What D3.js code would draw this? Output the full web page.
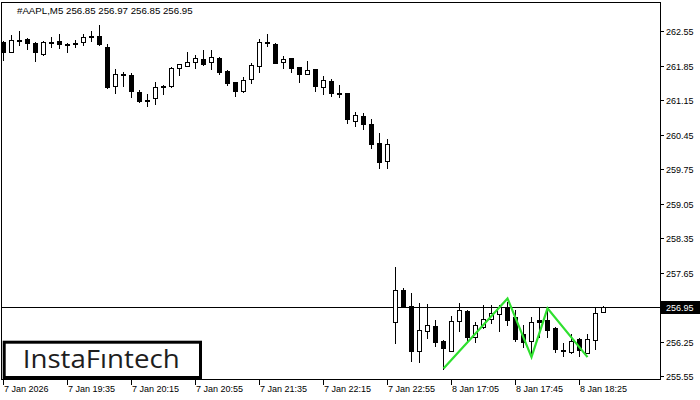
<!DOCTYPE html>
<html><head><meta charset="utf-8">
<script src="https://cdn.jsdelivr.net/npm/d3@7"></script>
<style>html,body{margin:0;padding:0;background:#fff;}svg{display:block;}</style>
</head><body>
<svg id="chart" width="700" height="400"></svg>
<script>
const title = "#AAPL,M5  256.85 256.97 256.85 256.95";
const openP  = [262.33,262.13,262.36,262.39,262.31,262.08,262.33,262.35,262.29,262.31,262.33,262.43,262.45,262.23,261.44,261.68,261.66,261.31,261.15,261.19,261.44,261.44,261.81,261.85,261.92,261.98,261.92,262.00,261.74,261.51,261.34,261.57,261.85,262.33,262.29,261.93,262.00,261.82,261.68,261.78,261.42,261.54,261.29,261.29,260.73,260.83,260.66,260.29,259.92,256.66,257.30,256.98,256.07,256.48,256.57,256.27,256.07,256.68,256.88,256.34,256.55,256.71,256.81,256.95,256.75,256.40,256.27,256.69,256.69,256.54,256.09,256.05,256.30,256.03,256.29,256.85];
const highP  = [262.34,262.47,262.54,262.40,262.33,262.35,262.42,262.49,262.30,262.37,262.49,262.54,262.67,262.29,261.79,261.72,261.70,261.35,261.27,261.52,261.45,261.83,261.89,262.12,262.06,262.16,262.16,262.02,261.75,261.52,261.61,261.91,262.38,262.49,262.30,262.05,262.01,261.83,261.94,261.79,261.64,261.58,261.46,261.30,260.90,260.88,260.76,260.49,260.36,257.76,257.35,257.25,257.03,257.01,256.69,256.28,256.77,257.03,256.89,256.66,257.00,257.00,257.00,257.06,256.90,256.59,256.76,256.95,256.93,256.56,256.22,256.40,256.32,256.40,256.95,256.97];
const lowP   = [261.96,262.12,262.27,262.18,261.95,262.07,262.23,262.21,262.12,262.23,262.27,262.35,262.27,261.39,261.29,261.44,261.22,261.12,261.03,261.08,261.27,261.42,261.66,261.84,261.81,261.87,261.79,261.67,261.46,261.24,261.32,261.49,261.72,262.25,261.90,261.81,261.72,261.52,261.67,261.34,261.27,261.24,261.22,260.69,260.63,260.56,260.17,259.78,259.78,256.23,256.97,255.87,255.85,256.32,256.17,255.71,256.06,256.46,256.25,256.25,256.54,256.63,256.47,256.59,256.27,256.15,255.96,256.35,256.35,256.05,255.97,256.02,255.96,256.02,256.10,256.85];
const closeP = [262.13,262.37,262.35,262.30,262.12,262.33,262.32,262.28,262.28,262.30,262.42,262.44,262.28,261.42,261.68,261.67,261.34,261.14,261.16,261.41,261.41,261.81,261.88,261.93,262.00,261.88,262.02,261.72,261.49,261.34,261.56,261.86,262.33,262.30,261.91,261.98,261.81,261.68,261.75,261.44,261.56,261.30,261.28,260.76,260.85,260.66,260.27,259.89,260.27,257.31,256.98,256.07,256.50,256.59,256.25,256.12,256.68,256.90,256.35,256.59,256.71,256.83,256.95,256.69,256.31,256.25,256.65,256.66,256.49,256.10,256.08,256.27,256.08,256.30,256.83,256.95];
const yTicks = [262.55,261.85,261.15,260.45,259.75,259.05,258.35,257.65,256.95,256.25,255.55];
const xTickIdx = [0,8,16,24,32,40,48,56,64,72];
const xTickLabels = ["7 Jan 2026","7 Jan 19:35","7 Jan 20:15","7 Jan 20:55","7 Jan 21:35","7 Jan 22:15","7 Jan 22:55","8 Jan 17:05","8 Jan 17:45","8 Jan 18:25"];
const lastPrice = 256.95;
const patternIdx = [55,63,66,68,73];
const patternPrice = [255.71,257.13,255.94,256.93,255.94];
const logoText = "InstaFıntech";

const svg = d3.select("#chart");
const nBars = openP.length;
const x = d3.scaleLinear().domain([0, 75]).range([3, 603]);
const y = d3.scaleLinear().domain([255.55, 262.55]).range([376.4, 31]);
const R = v => Math.round(v);

const bars = d3.range(nBars).map(i => ({i, o: openP[i], h: highP[i], l: lowP[i], c: closeP[i]}));

// frame
svg.append("rect").attr("x",1.5).attr("y",2.5).attr("width",659).attr("height",377)
  .attr("fill","none").attr("stroke","#000").attr("shape-rendering","crispEdges");

// last price line
svg.append("line").attr("x1",1).attr("x2",660)
  .attr("y1",R(y(lastPrice))+0.5).attr("y2",R(y(lastPrice))+0.5)
  .attr("stroke","#000").attr("shape-rendering","crispEdges");

// candles
const g = svg.append("g").attr("shape-rendering","crispEdges");
g.selectAll("line.w").data(bars).join("line")
  .attr("x1", d => R(x(d.i))+0.5).attr("x2", d => R(x(d.i))+0.5)
  .attr("y1", d => R(y(d.h))).attr("y2", d => R(y(d.l))+1)
  .attr("stroke","#000");
g.selectAll("rect.b").data(bars).join("rect")
  .attr("x", d => R(x(d.i))-2+0.5).attr("width",4)
  .attr("y", d => R(y(Math.max(d.o,d.c)))+0.5)
  .attr("height", d => Math.max(1, R(y(Math.min(d.o,d.c))) - R(y(Math.max(d.o,d.c)))))
  .attr("fill", d => d.c >= d.o ? "#fff" : "#000")
  .attr("stroke","#000");

// pattern
svg.append("path")
  .datum(patternIdx.map((d,k)=>[x(d)+0.5, y(patternPrice[k])]))
  .attr("d", d3.line())
  .attr("fill","none").attr("stroke","#2fe02f").attr("stroke-width",2.2)
  .attr("stroke-linejoin","miter");

// header
svg.append("text").attr("x",17).attr("y",14).text(title)
  .attr("font-family","Liberation Sans, Arial, sans-serif").attr("font-size",9.7).attr("fill","#000");

// right axis
const ya = svg.append("g");
ya.selectAll("line").data(yTicks).join("line")
  .attr("x1",660).attr("x2",664).attr("y1", d=>R(y(d))+0.5).attr("y2", d=>R(y(d))+0.5)
  .attr("stroke","#000").attr("shape-rendering","crispEdges");
ya.selectAll("text").data(yTicks).join("text")
  .attr("x",666).attr("y", d=>R(y(d))+3.5).text(d=>d3.format(".2f")(d))
  .attr("font-family","Liberation Sans, Arial, sans-serif").attr("font-size",9).attr("fill","#000");

// last price box
svg.append("rect").attr("x",661).attr("y",R(y(lastPrice))-6).attr("width",39).attr("height",13).attr("fill","#000");
svg.append("text").attr("x",666).attr("y",R(y(lastPrice))+3.5).text(d3.format(".2f")(lastPrice))
  .attr("font-family","Liberation Sans, Arial, sans-serif").attr("font-size",9).attr("fill","#fff");

// bottom axis
const xa = svg.append("g");
xa.selectAll("line").data(xTickIdx).join("line")
  .attr("x1", d=>R(x(d))+0.5).attr("x2", d=>R(x(d))+0.5).attr("y1",380).attr("y2",385)
  .attr("stroke","#000").attr("shape-rendering","crispEdges");
xa.selectAll("text").data(xTickIdx).join("text")
  .attr("x", d=>R(x(d))+1).attr("y",392).text((d,k)=>xTickLabels[k])
  .attr("font-family","Liberation Sans, Arial, sans-serif").attr("font-size",9).attr("fill","#000");

// logo
svg.append("rect").attr("x",4.2).attr("y",342.2).attr("width",196.3).attr("height",35.3)
  .attr("fill","#fff").attr("stroke","#000").attr("stroke-width",3);
svg.append("text").attr("x",22.7).attr("y",368.3).text(logoText)
  .attr("font-family","Open Sans, Lato, sans-serif").attr("font-weight",500).attr("font-size",26).attr("fill","#1e1e1e")
  .attr("textLength",157).attr("lengthAdjust","spacingAndGlyphs");
</script>
</body></html>
